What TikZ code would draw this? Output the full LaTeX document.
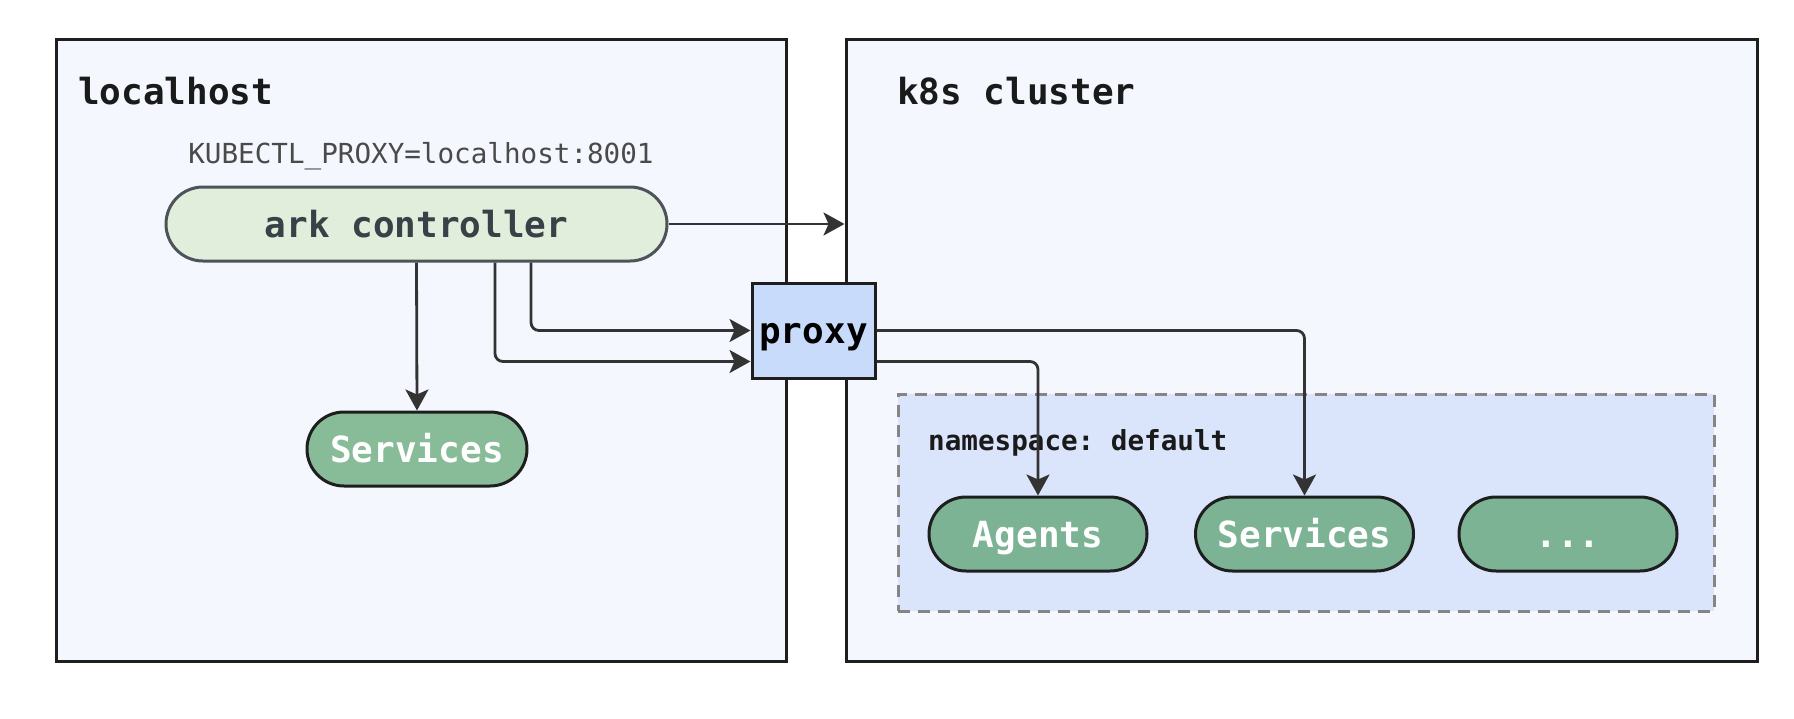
\documentclass[tikz,border=0pt]{standalone}
\usepackage{fontspec}
\setmonofont{DejaVu Sans Mono}
\usetikzlibrary{arrows.meta}
\definecolor{boxfill}{HTML}{F4F7FD}
\definecolor{nsfill}{HTML}{DAE4FB}
\definecolor{proxyfill}{HTML}{C9DBFA}
\definecolor{arkfill}{HTML}{E0EEDB}
\definecolor{greenA}{HTML}{88BB97}
\definecolor{greenB}{HTML}{7DB395}
\definecolor{stroke}{HTML}{1E1E1E}
\definecolor{conncol}{HTML}{333333}
\definecolor{arktext}{HTML}{3A4048}
\definecolor{titletext}{HTML}{1A1A1A}
\definecolor{envtext}{HTML}{4A4A4A}
\definecolor{dashcol}{HTML}{858585}
\tikzset{
  groupbox/.style={draw=stroke, line width=3pt, fill=boxfill, inner sep=0pt},
  nsbox/.style={draw=dashcol, line width=3pt, dash pattern=on 12pt off 8pt, fill=nsfill, inner sep=0pt},
  pill/.style={line width=3pt, rounded corners=37pt, minimum height=74pt, inner sep=0pt,
    font=\fontsize{36}{40}\selectfont\ttfamily\bfseries, text height=26pt, text depth=0pt},
  arkpill/.style={pill, draw=arktext!90, fill=arkfill, text=arktext, minimum width=501pt},
  svcpill/.style={pill, draw=stroke, fill=greenB, text=white, minimum width=218pt},
  proxybox/.style={draw=stroke, line width=3pt, fill=proxyfill, minimum width=123pt, minimum height=95pt,
    inner sep=0pt, font=\fontsize{36}{40}\selectfont\ttfamily\bfseries, text height=26pt, text depth=0pt, text=black},
  title/.style={anchor=base west, inner sep=0pt, text=titletext, font=\fontsize{36}{40}\selectfont\ttfamily\bfseries},
  envlabel/.style={anchor=base, inner sep=0pt, text=envtext, font=\fontsize{27.6}{32}\selectfont\ttfamily},
  nslabel/.style={anchor=base west, inner sep=0pt, text=titletext, font=\fontsize{27.6}{32}\selectfont\ttfamily\bfseries},
  conn/.style={draw=conncol, line width=2.8pt, rounded corners=8pt,
    -{Stealth[length=21pt, width=23pt, inset=5pt]}}
}
\begin{document}
\begin{tikzpicture}[x=1pt, y=-1pt]
\useasboundingbox[fill=white] (0,0) rectangle (1794,718);
% group boxes
\node[groupbox, minimum width=730pt, minimum height=622pt] (local) at (421,350) {};
\node[groupbox, minimum width=911pt, minimum height=622pt] (k8s) at (1301.5,350) {};
\node[nsbox, minimum width=816pt, minimum height=217pt] (ns) at (1306,502.5) {};
% labels
\node[title] (localtitle) at (78,104) {localhost};
\node[title] (k8stitle) at (897,104) {k8s cluster};
\node[envlabel] (env) at (421,163) {KUBECTL\_PROXY=localhost:8001};
\node[nslabel] (nstitle) at (928,450) {namespace: default};
% nodes
\node[arkpill] (ark) at (416.5,224) {ark controller};
\node[svcpill, fill=greenA, minimum width=220pt] (svcL) at (417,449) {Services};
\node[proxybox] (proxy) at (813.5,330.5) {proxy};
\node[svcpill] (agents) at (1038,534) {Agents};
\node[svcpill] (svcR) at (1304.5,534) {Services};
\node[svcpill] (more) at (1568,534) {...};
% connectors
\draw[conn] (ark.east) -- (ark.east -| k8s.west);
\draw[conn] (ark.south) -- (svcL.north);
\draw[conn] ([xshift=114.5pt]ark.south) |- (proxy.west);
\draw[conn] ([xshift=78.5pt]ark.south) |- ([yshift=-31pt]proxy.west);
\draw[conn] (proxy.east) -| (svcR.north);
\draw[conn] ([yshift=-31pt]proxy.east) -| (agents.north);
\end{tikzpicture}
\end{document}
